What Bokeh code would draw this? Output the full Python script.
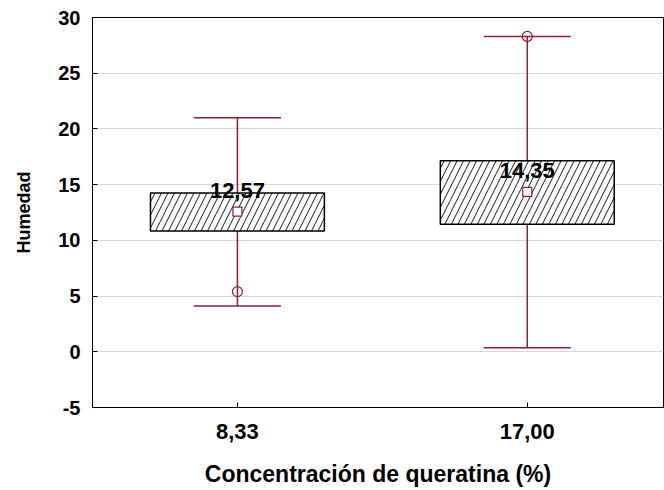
from bokeh.plotting import figure
from bokeh.models import Range1d, FixedTicker, ColumnDataSource
from bokeh.transform import dodge
from bokeh.core.properties import value
from bokeh.embed import file_html
from bokeh.resources import INLINE

# ---- data ----
categories = ["8,33", "17,00"]
positions = [1, 2]
means = [12.57, 14.35]
box_low = [10.83, 11.45]
box_high = [14.24, 17.14]
whisker_low = [4.1, 0.36]
whisker_high = [21.0, 28.3]
outlier_x = [1, 2]
outlier_y = [5.4, 28.3]
y_ticks = [-5, 0, 5, 10, 15, 20, 25, 30]

RED = "#8b2230"
FONT = "Liberation Sans"

p = figure(width=664, height=490, output_backend="svg", toolbar_location=None,
           x_range=Range1d(0.5, 2.47), y_range=Range1d(-5, 30),
           min_border_left=92, min_border_right=1, min_border_top=17, min_border_bottom=83)

p.background_fill_color = "white"
p.border_fill_color = "white"
p.outline_line_color = "black"
p.outline_line_width = 1
p.xgrid.visible = False
p.ygrid.grid_line_color = "#d8d8d8"
p.ygrid.grid_line_width = 1

src = ColumnDataSource(dict(x=positions, mean=means, lo=box_low, hi=box_high,
                            wlo=whisker_low, whi=whisker_high,
                            lab=[f"{m:.2f}".replace(".", ",") for m in means]))

# whiskers
p.segment(x0="x", y0="wlo", x1="x", y1="whi", source=src, line_color=RED, line_width=1.5)
p.segment(x0=dodge("x", -0.15), y0="wlo", x1=dodge("x", 0.15), y1="wlo", source=src,
          line_color=RED, line_width=1.5)
p.segment(x0=dodge("x", -0.15), y0="whi", x1=dodge("x", 0.15), y1="whi", source=src,
          line_color=RED, line_width=1.5)

# boxes
p.vbar(x="x", bottom="lo", top="hi", width=0.6, source=src, fill_color="white",
       line_color="black", line_width=1.5, hatch_pattern="/", hatch_color="black",
       hatch_scale=13, hatch_weight=0.9)

# mean markers
p.scatter(x="x", y="mean", source=src, marker="square", size=9, line_color=RED,
          fill_color="white", line_width=1.2)
# outliers
p.scatter(x=outlier_x, y=outlier_y, marker="circle", size=10, line_color=RED,
          fill_alpha=0, line_width=1.2)

# mean labels
p.text(x="x", y="mean", text="lab", source=src, text_align="center", text_baseline="middle",
       y_offset=-21, text_font=value(FONT), text_font_style="bold", text_font_size="22px",
       text_color="black")

# axes
p.xaxis.ticker = FixedTicker(ticks=positions)
p.xaxis.major_label_overrides = {pos: lab for pos, lab in zip(positions, categories)}
p.yaxis.ticker = FixedTicker(ticks=y_ticks)
p.yaxis.major_label_overrides = {t: str(t) for t in y_ticks}

for ax in (p.xaxis[0], p.yaxis[0]):
    ax.axis_line_color = "black"
    ax.major_tick_in = 5
    ax.major_tick_out = 0
    ax.minor_tick_line_color = None
    ax.major_tick_line_color = "black"
    ax.major_label_text_font = FONT
    ax.major_label_text_font_style = "bold"
    ax.major_label_text_color = "black"
    ax.axis_label_text_font = FONT
    ax.axis_label_text_font_style = "bold"
    ax.axis_label_text_color = "black"

p.xaxis.major_label_text_font_size = "22px"
p.xaxis.major_label_standoff = 16
p.xaxis.axis_label = "Concentración de queratina (%)"
p.xaxis.axis_label_text_font_size = "23px"
p.xaxis.axis_label_standoff = 19

p.yaxis.major_label_text_font_size = "20px"
p.yaxis.major_label_standoff = 12
p.yaxis.axis_label = "Humedad"
p.yaxis.axis_label_text_font_size = "18px"
p.yaxis.axis_label_standoff = 21

open("out.html", "w").write(file_html(p, INLINE))
